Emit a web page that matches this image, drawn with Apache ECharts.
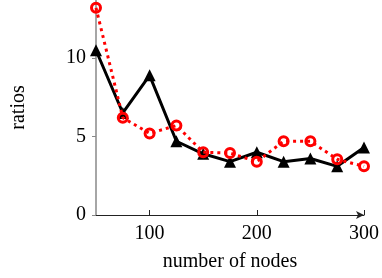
<!DOCTYPE html>
<html>
<head>
<meta charset="utf-8">
<script src="https://cdn.jsdelivr.net/npm/echarts@6/dist/echarts.min.js"></script>
<style>
  html, body { margin: 0; padding: 0; background: #fff; }
  #chart { width: 382px; height: 278px; }
</style>
</head>
<body>
<div id="chart"></div>
<script>
// number of nodes
const nodes = [50, 75, 100, 125, 150, 175, 200, 225, 250, 275, 300]
// black solid series (triangles)
const blackRatios = [10.5, 6.5, 8.9, 4.7, 3.9, 3.4, 4.0, 3.4, 3.6, 3.1, 4.3]
// red dotted series (circles)
const redRatios = [13.2, 6.2, 5.2, 5.7, 4.0, 3.95, 3.4, 4.7, 4.7, 3.55, 3.1]
const xTicks = [100, 200, 300]
const yTicks = [0, 5, 10]

const font = 'Liberation Serif'
const chart = echarts.init(document.getElementById('chart'))

function pairs(ys) {
  return nodes.map(function(x, i) { return [x, ys[i]] })
}

chart.setOption({
  animation: false,
  backgroundColor: '#fff',
  grid: { left: 96, right: 18, top: 0, bottom: 63 },
  xAxis: {
    type: 'value',
    min: 50,
    max: 300,
    name: 'number of nodes',
    nameLocation: 'middle',
    nameGap: 37,
    nameTextStyle: { fontFamily: font, fontSize: 20, color: '#000' },
    splitLine: { show: false },
    axisLine: {
      lineStyle: { color: '#222', width: 1 },
      symbol: ['none', 'arrow'],
      symbolSize: [6, 8]
    },
    axisTick: {
      inside: true,
      length: 5,
      customValues: xTicks,
      lineStyle: { color: '#222' }
    },
    axisLabel: {
      customValues: xTicks,
      fontFamily: font,
      fontSize: 20,
      color: '#000',
      margin: 9
    }
  },
  yAxis: {
    type: 'value',
    min: 0,
    max: 13.7,
    name: 'ratios',
    nameLocation: 'middle',
    nameGap: 67,
    nameTextStyle: { fontFamily: font, fontSize: 20, color: '#000' },
    splitLine: { show: false },
    axisLine: { show: true, lineStyle: { color: '#888', width: 1.5 } },
    axisTick: {
      length: 4,
      customValues: yTicks,
      lineStyle: { color: '#888' }
    },
    axisLabel: {
      customValues: yTicks,
      fontFamily: font,
      fontSize: 20,
      color: '#000',
      margin: 10
    }
  },
  series: [
    {
      type: 'line',
      data: pairs(blackRatios),
      symbol: 'triangle',
      symbolSize: 12,
      itemStyle: { color: '#000' },
      lineStyle: { color: '#000', width: 3 },
      z: 2
    },
    {
      type: 'line',
      data: pairs(redRatios),
      symbol: 'circle',
      symbolSize: 9,
      itemStyle: { color: 'transparent', borderColor: '#ff0000', borderWidth: 3 },
      lineStyle: { color: '#ff0000', width: 3, type: [3, 4] },
      z: 3
    }
  ]
})
</script>
</body>
</html>
